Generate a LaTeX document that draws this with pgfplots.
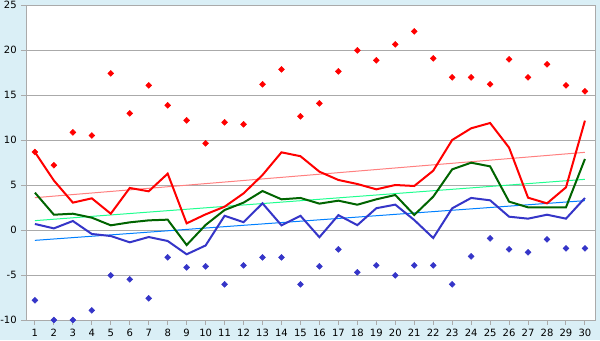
\documentclass[border=0pt]{standalone}
\usepackage{pgfplots}
\pgfplotsset{compat=1.18}
\usepackage{fontspec}
\setmainfont{DejaVu Sans}
\definecolor{bgblue}{HTML}{DAEFF6}
\definecolor{gridgray}{HTML}{AAAAAA}
\definecolor{lred}{HTML}{FF0000}
\definecolor{lgreen}{HTML}{006400}
\definecolor{lblue}{HTML}{3535C8}
\definecolor{tred}{HTML}{FF8080}
\definecolor{tgreen}{HTML}{20FF90}
\definecolor{tblue}{HTML}{0080FF}
\begin{document}
\begin{tikzpicture}
\useasboundingbox (0pt,0pt) rectangle (450pt,255pt);
\fill[bgblue] (0pt,0pt) rectangle (450pt,255pt);
\begin{axis}[
  at={(19.5pt,15pt)}, anchor=south west,
  scale only axis, width=426.75pt, height=236.25pt,
  xmin=0.53, xmax=30.53, ymin=-10, ymax=25,
  axis background/.style={fill=white},
  axis line style={draw=gridgray, line width=0.75pt},
  xtick={1,...,30}, ytick={-10,-5,...,25},
  ymajorgrids, grid style={draw=gridgray, line width=0.75pt},
  tick align=outside, major tick length=3.5pt,
  tick style={draw=gridgray, line width=0.75pt},
  xtick pos=bottom, ytick pos=left,
  x tick label style={font=\fontsize{7.5}{9}\selectfont},
  y tick label style={font=\fontsize{7.5}{9}\selectfont},
  /pgf/number format/assume math mode=true,
  clip=false,
]
% trend lines
\addplot[tred, line width=0.75pt] coordinates {(1,3.59) (30,8.63)};
\addplot[tgreen, line width=0.75pt] coordinates {(1,1.04) (30,5.63)};
\addplot[tblue, line width=0.75pt] coordinates {(1,-1.15) (30,3.26)};
% blue line
\addplot[lblue, line width=1.5pt] coordinates {
(1,0.67) (2,0.18) (3,1.0) (4,-0.44) (5,-0.67) (6,-1.37) (7,-0.78) (8,-1.22) (9,-2.7) (10,-1.72)
(11,1.58) (12,0.87) (13,2.96) (14,0.52) (15,1.58) (16,-0.8) (17,1.65) (18,0.54) (19,2.42) (20,2.82)
(21,1.11) (22,-0.89) (23,2.41) (24,3.56) (25,3.3) (26,1.48) (27,1.26) (28,1.7) (29,1.26) (30,3.56)};
% green line
\addplot[lgreen, line width=1.5pt] coordinates {
(1,4.15) (2,1.7) (3,1.81) (4,1.37) (5,0.52) (6,0.85) (7,1.07) (8,1.15) (9,-1.67) (10,0.56)
(11,2.22) (12,3.04) (13,4.33) (14,3.41) (15,3.56) (16,2.93) (17,3.26) (18,2.81) (19,3.41) (20,3.89)
(21,1.67) (22,3.7) (23,6.74) (24,7.48) (25,7.07) (26,3.15) (27,2.52) (28,2.52) (29,2.52) (30,7.89)};
% red line
\addplot[lred, line width=1.5pt] coordinates {
(1,8.65) (2,5.5) (3,3.04) (4,3.52) (5,1.81) (6,4.67) (7,4.3) (8,6.26) (9,0.74) (10,1.74)
(11,2.59) (12,4.07) (13,6.11) (14,8.63) (15,8.2) (16,6.48) (17,5.56) (18,5.11) (19,4.52) (20,5.0)
(21,4.89) (22,6.59) (23,10.0) (24,11.3) (25,11.89) (26,9.15) (27,3.59) (28,2.96) (29,4.74) (30,12.15)};
% max markers
\addplot[only marks, mark=square*, mark size=1.55pt, mark options={rotate=45}, color=lred] coordinates {
(1,8.67) (2,7.2) (3,10.85) (4,10.5) (5,17.4) (6,12.96) (7,16.07) (8,13.85) (9,12.18) (10,9.63)
(11,11.96) (12,11.74) (13,16.19) (14,17.85) (15,12.63) (16,14.07) (17,17.63) (18,19.96) (19,18.85) (20,20.63)
(21,22.07) (22,19.07) (23,16.96) (24,16.96) (25,16.19) (26,18.96) (27,16.96) (28,18.41) (29,16.07) (30,15.41)};
% min markers
\addplot[only marks, mark=square*, mark size=1.55pt, mark options={rotate=45}, color=lblue] coordinates {
(1,-7.81) (2,-10) (3,-10) (4,-8.93) (5,-5.04) (6,-5.48) (7,-7.59) (8,-3.04) (9,-4.15) (10,-4.04)
(11,-6.04) (12,-3.93) (13,-3.04) (14,-3.04) (15,-6.04) (16,-4.04) (17,-2.15) (18,-4.7) (19,-3.93) (20,-5.04)
(21,-3.93) (22,-3.93) (23,-6.04) (24,-2.93) (25,-0.93) (26,-2.15) (27,-2.48) (28,-1.04) (29,-2.04) (30,-2.04)};
\end{axis}
\end{tikzpicture}
\end{document}
